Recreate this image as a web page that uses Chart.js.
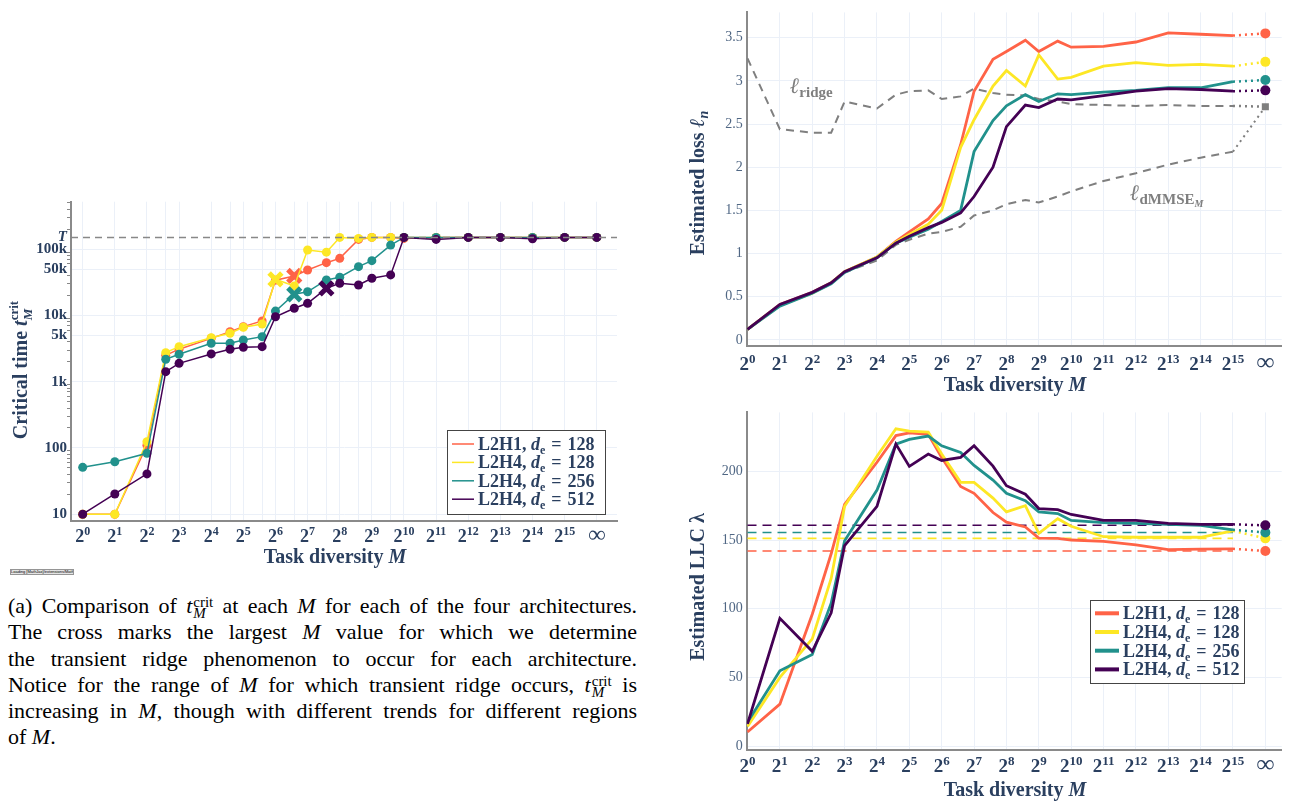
<!DOCTYPE html>
<html>
<head>
<meta charset="utf-8">
<script src="https://cdn.jsdelivr.net/npm/chart.js@4.4.1/dist/chart.umd.min.js"></script>
<style>
  body { margin: 0; background: #fff; width: 1291px; height: 805px; position: relative; overflow: hidden; }
  canvas { position: absolute; }
  #c1 { left: 0; top: 190px; }
  #c2 { left: 680px; top: 0; }
  #c3 { left: 680px; top: 400px; }
  #cap { position: absolute; left: 8px; top: 593px; width: 629px; font: 22px "Liberation Serif", serif; line-height: 26.3px; color: #000; }
  #cap .l { text-align: justify; text-align-last: justify; height: 26.3px; white-space: nowrap; }
  #cap .ss { display: inline-block; font-size: 15px; line-height: 11px; vertical-align: -5px; margin-left: 1px; }
  #cap .ss span { display: block; }
  #mj { position: absolute; left: 10px; top: 569px; width: 62px; height: 4px; font: 4px sans-serif; line-height: 4px;
        border: 1px solid #959595; background: #e4e4e4; color: #000; overflow: hidden; white-space: nowrap; }
</style>
</head>
<body>
<canvas id="c1" width="630" height="390"></canvas>
<canvas id="c2" width="611" height="400"></canvas>
<canvas id="c3" width="611" height="405"></canvas>
<div id="mj">Loading [MathJax]/extensions/MathMenu.js</div>
<div id="cap">
  <div class="l">(a) Comparison of <i>t</i><span class="ss"><span>crit</span><span><i>M</i></span></span> at each <i>M</i> for each of the four architectures.</div>
  <div class="l">The cross marks the largest <i>M</i> value for which we determine</div>
  <div class="l">the transient ridge phenomenon to occur for each architecture.</div>
  <div class="l">Notice for the range of <i>M</i> for which transient ridge occurs, <i>t</i><span class="ss"><span>crit</span><span><i>M</i></span></span> is</div>
  <div class="l">increasing in <i>M</i>, though with different trends for different regions</div>
  <div>of <i>M</i>.</div>
</div>
<script>
// task diversity values, infinity is drawn one step after 2^15
const M = [1, 2, 4, 6, 8, 16, 24, 32, 48, 64, 96, 128, 192, 256, 384, 512, 768,
           1024, 2048, 4096, 8192, 16384, 32768, Infinity];
const INF_AT = 16;

const names = ['L2H1', 'L2H4', 'L2H4', 'L2H4'];
const dims = [128, 128, 256, 512];
const colors = ['#FF6347', '#FDE725', '#21918C', '#440154'];

// (a) critical time t_M^crit
const T = 150000;
const critRed    = [10, 10, 110, 2500, 3090, 4500, 5680, 6760, 8240, 34000, 39300, 48400, 62400, 72500, 140000, T, T, 145000, T, T, T, T, T, T];
const critYellow = [10, 10, 124, 2740, 3370, 4610, 5370, 6610, 7420, 35000, 27700, 96800, 90000, T, 145000, T, T, T, T, T, T, T, T, T];
const critTeal   = [51, 62, 83, 2180, 2590, 3800, 3800, 4250, 4780, 11600, 20800, 22700, 34200, 37600, 54300, 66900, 115000, T, T, T, T, T, T, T];
const critPurple = [10, 20.2, 40.6, 1415, 1890, 2620, 3080, 3300, 3370, 9550, 12800, 15200, 25600, 30500, 28700, 36300, 40800, T, 140000, T, T, 143000, T, T];
const crossAt = [96, 64, 96, 192];
const yMajor = [10, 100, 1000, 5000, 10000, 50000, 100000, T];
const yMajorLabels = ['10', '100', '1k', '5k', '10k', '50k', '100k', 'T'];

// estimated loss
const lossRed    = [0.12, 0.41, 0.55, 0.66, 0.79, 0.96, 1.14, 1.25, 1.40, 1.58, 2.26, 2.88, 3.25, 3.34, 3.47, 3.34, 3.46, 3.39, 3.40, 3.45, 3.555, 3.54, 3.525, 3.55];
const lossYellow = [0.12, 0.40, 0.54, 0.66, 0.79, 0.96, 1.13, 1.22, 1.34, 1.50, 2.23, 2.55, 2.94, 3.12, 2.94, 3.30, 3.02, 3.04, 3.17, 3.21, 3.18, 3.19, 3.17, 3.22];
const lossTeal   = [0.12, 0.39, 0.54, 0.65, 0.78, 0.95, 1.12, 1.19, 1.28, 1.37, 1.50, 2.18, 2.54, 2.71, 2.84, 2.76, 2.85, 2.84, 2.87, 2.89, 2.92, 2.92, 2.99, 3.01];
const lossPurple = [0.12, 0.41, 0.55, 0.66, 0.79, 0.95, 1.12, 1.20, 1.30, 1.36, 1.47, 1.66, 2.00, 2.47, 2.72, 2.69, 2.79, 2.78, 2.83, 2.88, 2.91, 2.90, 2.88, 2.89];
const lossRidge  = [3.26, 2.44, 2.40, 2.40, 2.76, 2.68, 2.84, 2.88, 2.89, 2.79, 2.82, 2.91, 2.86, 2.84, 2.83, 2.79, 2.76, 2.73, 2.72, 2.71, 2.72, 2.71, 2.71, 2.70];
const lossDmmse  = [0.12, 0.40, 0.54, 0.65, 0.78, 0.92, 1.10, 1.16, 1.23, 1.25, 1.31, 1.44, 1.50, 1.57, 1.62, 1.59, 1.66, 1.72, 1.84, 1.93, 2.03, 2.11, 2.18, 2.70];

// estimated LLC
const llcRed    = [10.2, 30.5, 96, 140, 176, 206.6, 226, 228, 227, 210, 189, 184, 170, 163, 159.5, 151.4, 151.2, 150, 149, 146.4, 143, 143.3, 143.6, 142];
const llcYellow = [14.3, 50, 78, 122, 174.5, 211, 231, 229.3, 228.6, 212.6, 192, 192, 180.5, 170.5, 175, 154.8, 165.5, 160, 152.4, 152, 152, 152, 156.7, 151.2];
const llcTeal   = [17.4, 54.8, 66.7, 104, 149.5, 186.4, 219.8, 223.3, 225.7, 218.6, 213.8, 204.3, 193.6, 184, 178.6, 170.5, 169.3, 164.3, 162.6, 162.1, 161.4, 160.7, 157.4, 155.5];
const llcPurple = [16.2, 93, 69, 97, 146, 174.5, 219.8, 203.6, 212.6, 207.9, 210.2, 218.6, 203.8, 189.5, 183.3, 172.9, 172.1, 168.6, 164.3, 164.3, 162.1, 161.4, 161.4, 160.7];

const SERIF = '"Liberation Serif", "DejaVu Serif", serif';
const NAVY = '#2a3f5f';
const GRID = '#ebf0f8';
const AXIS = '#8a8a8a';
const GRAY = '#7f7f7f';

Chart.defaults.font.family = SERIF;

function fnt(size, style) { return (style || 'bold') + ' ' + size + 'px ' + SERIF; }
function xOf(m) { return m === Infinity ? INF_AT : Math.log2(m); }
function pts(vals, from, to) {
  return vals.slice(from, to).map((v, k) => ({ x: xOf(M[from + k]), y: v }));
}

// text with italic parts, sub- and superscripts
function rich(ctx, segs, x, y, opt) {
  opt = opt || {};
  ctx.save();
  ctx.translate(x, y);
  if (opt.rot) ctx.rotate(opt.rot);
  let start = 0, end = 0;
  const xs = [];
  segs.forEach(s => {
    ctx.font = s.f;
    const w = ctx.measureText(s.t).width;
    const sx = s.stack ? start : end;
    if (!s.stack) start = sx;
    xs.push(sx);
    end = Math.max(end, sx + w);
  });
  const off = opt.align === 'left' ? 0 : -end / 2;
  ctx.fillStyle = opt.color || NAVY;
  ctx.textAlign = 'left';
  ctx.textBaseline = 'alphabetic';
  segs.forEach((s, k) => { ctx.font = s.f; ctx.fillText(s.t, xs[k] + off, s.dy || 0); });
  ctx.restore();
}

// 2^k labels under the x axis, placed with the scale
function drawPowTicks(chart, below, size, supSize) {
  const sx = chart.scales.x, ctx = chart.ctx, y = chart.chartArea.bottom + below;
  for (let k = 0; k <= INF_AT; k++) {
    const px = sx.getPixelForValue(k);
    if (k === INF_AT) rich(ctx, [{ t: '∞', f: fnt(size + 6) }], px, y);
    else rich(ctx, [{ t: '2', f: fnt(size) }, { t: String(k), f: fnt(supSize), dy: -7 }], px, y);
  }
}

function drawLegend(ctx, box, rowH, lineW, lineLen, size) {
  ctx.save();
  ctx.fillStyle = '#fff';
  ctx.fillRect(box.x, box.y, box.w, box.h);
  ctx.strokeStyle = '#444';
  ctx.lineWidth = 1;
  ctx.strokeRect(box.x + 0.5, box.y + 0.5, box.w, box.h);
  names.forEach((n, i) => {
    const cy = box.y + box.first + i * rowH;
    ctx.strokeStyle = colors[i];
    ctx.lineWidth = lineW;
    ctx.beginPath();
    ctx.moveTo(box.x + 5, cy);
    ctx.lineTo(box.x + 5 + lineLen, cy);
    ctx.stroke();
    rich(ctx, [
      { t: n + ', ', f: fnt(size) },
      { t: 'd', f: fnt(size, 'italic bold') },
      { t: 'e', f: fnt(Math.round(size * 0.65)), dy: 4 },
      { t: '\u2004=\u2004' + dims[i], f: fnt(size) }
    ], box.x + lineLen + 9, cy + 6, { align: 'left' });
  });
  ctx.restore();
}

const xTitle = [{ t: 'Task diversity ', f: fnt(20) }, { t: 'M', f: fnt(20, 'italic bold') }];

// ---------- (a) critical time ----------
const c1xMin = -0.364, c1xMax = 16.63;
const critSeries = [critRed, critYellow, critTeal, critPurple];
const ds1 = critSeries.map((vals, i) => ({
  data: pts(vals, 0, M.length),
  borderColor: colors[i],
  backgroundColor: colors[i],
  borderWidth: 1.5,
  pointBackgroundColor: colors[i],
  pointBorderColor: colors[i],
  pointStyle: c => M[c.dataIndex] === crossAt[i] ? 'crossRot' : 'circle',
  pointRadius: c => M[c.dataIndex] === crossAt[i] ? 9 : 4.5,
  pointBorderWidth: c => M[c.dataIndex] === crossAt[i] ? 5 : 0,
  order: 3 - i
}));
ds1.push({
  data: [{ x: c1xMin, y: T }, { x: c1xMax, y: T }],
  borderColor: '#888', borderWidth: 1.5, borderDash: [7, 5], pointRadius: 0, order: -1
});

const yTicks1 = yMajor.slice();
for (let k = 1; k <= 5; k++) {
  for (let d = 2; d <= 9; d++) {
    const v = d * Math.pow(10, k);
    if (v < 520000 && !yTicks1.includes(v)) yTicks1.push(v);
  }
}

new Chart(document.getElementById('c1'), {
  type: 'line',
  data: { datasets: ds1 },
  options: {
    responsive: false,
    animation: false,
    layout: { padding: { top: 11.7, right: 13, left: 0, bottom: 0 } },
    plugins: { legend: { display: false }, tooltip: { enabled: false } },
    scales: {
      x: {
        type: 'linear', min: c1xMin, max: c1xMax,
        afterBuildTicks: s => { s.ticks = M.map(m => ({ value: xOf(m) })); },
        afterFit: s => { s.height = 59; },
        grid: { color: GRID, drawTicks: false },
        border: { color: AXIS, width: 2 },
        ticks: { display: false }
      },
      y: {
        type: 'logarithmic', min: 7.9, max: 519000,
        afterBuildTicks: s => { s.ticks = yTicks1.map(v => ({ value: v })); },
        afterFit: s => { s.width = 71; },
        grid: {
          color: c => (c.tick && yMajor.includes(c.tick.value) && c.tick.value !== T) ? GRID : 'rgba(0,0,0,0)',
          tickColor: c => (c.tick && yMajor.includes(c.tick.value)) ? 'rgba(0,0,0,0)' : '#888',
          tickLength: 4
        },
        border: { color: AXIS, width: 2 },
        ticks: {
          autoSkip: false, padding: 0, color: NAVY,
          font: c => ({ size: 15, weight: 'bold', style: (c.tick && c.tick.value === T) ? 'italic' : 'normal' }),
          callback: v => { const k = yMajor.indexOf(v); return k < 0 ? '' : yMajorLabels[k]; }
        }
      }
    }
  },
  plugins: [{
    id: 'deco1',
    afterDraw(chart) {
      const ctx = chart.ctx;
      drawPowTicks(chart, 21, 18, 12);
      rich(ctx, xTitle, 335, 373);
      rich(ctx, [
        { t: 'Critical time ', f: fnt(20) },
        { t: 't', f: fnt(20, 'italic bold') },
        { t: 'crit', f: fnt(13), dy: -9 },
        { t: 'M', f: fnt(13, 'italic bold'), dy: 5, stack: true }
      ], 27, 180, { rot: -Math.PI / 2 });
      drawLegend(ctx, { x: 447, y: 240, w: 158, h: 84, first: 14 }, 18.4, 1.5, 22, 18);
    }
  }]
});

// ---------- shared pieces for the two right panels ----------
const rxMin = -0.025, rxMax = 16.505;
const lastFinite = M.length - 2;

function rightX(h) {
  return {
    type: 'linear', min: rxMin, max: rxMax,
    afterBuildTicks: s => { s.ticks = Array.from({ length: INF_AT + 1 }, (_, k) => ({ value: k })); },
    afterFit: s => { s.height = h; },
    grid: { color: GRID, drawTicks: false },
    border: { color: AXIS, width: 2 },
    ticks: { display: false }
  };
}
function rightY(min, max, ticks) {
  return {
    type: 'linear', min: min, max: max,
    afterBuildTicks: s => { s.ticks = ticks.map(v => ({ value: v })); },
    afterFit: s => { s.width = 66.7; },
    grid: { color: GRID, drawTicks: false },
    border: { color: AXIS, width: 2 },
    ticks: { autoSkip: false, padding: 4, color: '#506784', font: { size: 14, weight: 'normal' },
             callback: v => String(v) }
  };
}
function solid(vals, color, order) {
  return { data: pts(vals, 0, lastFinite + 1), borderColor: color, borderWidth: 2.8,
           pointRadius: 0, order: order };
}
function tail(vals, color, order, marker) {
  return { data: pts(vals, lastFinite, M.length), borderColor: color, backgroundColor: color,
           borderWidth: 2.5, borderDash: [2, 4], pointStyle: marker || 'circle',
           pointRadius: c => (c.dataIndex === 1 && marker !== 'none') ? 5 : 0,
           pointBorderWidth: 0, order: order };
}

// ---------- estimated loss ----------
const lossSeries = [lossRed, lossYellow, lossTeal, lossPurple];
const ds2 = [];
lossSeries.forEach((vals, i) => { ds2.push(solid(vals, colors[i], 3 - i)); ds2.push(tail(vals, colors[i], 3 - i)); });
ds2.push({ data: pts(lossRidge, 0, lastFinite + 1), borderColor: GRAY, borderWidth: 2, borderDash: [8, 6], pointRadius: 0, order: 10 });
ds2.push(tail(lossRidge, GRAY, 9, 'rect'));
ds2.push({ data: pts(lossDmmse, 0, lastFinite + 1), borderColor: GRAY, borderWidth: 2, borderDash: [8, 6], pointRadius: 0, order: 10 });
ds2.push(Object.assign(tail(lossDmmse, GRAY, 10, 'none'), { borderWidth: 2 }));

new Chart(document.getElementById('c2'), {
  type: 'line',
  data: { datasets: ds2 },
  options: {
    responsive: false,
    animation: false,
    layout: { padding: { top: 3, right: 9.3, left: 0, bottom: 0 } },
    plugins: { legend: { display: false }, tooltip: { enabled: false } },
    scales: {
      x: rightX(54.3),
      y: rightY(-0.068, 3.793, [0, 0.5, 1, 1.5, 2, 2.5, 3, 3.5])
    }
  },
  plugins: [{
    id: 'deco2',
    afterDraw(chart) {
      const ctx = chart.ctx, sx = chart.scales.x, sy = chart.scales.y;
      drawPowTicks(chart, 24, 19, 13);
      rich(ctx, xTitle, 335, 391);
      rich(ctx, [
        { t: 'Estimated loss ', f: fnt(20) },
        { t: 'ℓ', f: fnt(21, 'italic bold') },
        { t: 'n', f: fnt(14, 'italic bold'), dy: 4 }
      ], 24, 183, { rot: -Math.PI / 2 });
      rich(ctx, [{ t: 'ℓ', f: fnt(22, 'italic bold') }, { t: 'ridge', f: fnt(15), dy: 4 }],
           sx.getPixelForValue(1.31), sy.getPixelForValue(2.86), { align: 'left', color: GRAY });
      rich(ctx, [{ t: 'ℓ', f: fnt(22, 'italic bold') }, { t: 'dMMSE', f: fnt(15), dy: 4 },
                 { t: 'M', f: fnt(10, 'italic bold'), dy: 7 }],
           sx.getPixelForValue(11.82), sy.getPixelForValue(1.62), { align: 'left', color: GRAY });
    }
  }]
});

// ---------- estimated LLC ----------
const llcSeries = [llcRed, llcYellow, llcTeal, llcPurple];
const ds3 = [];
llcSeries.forEach((vals, i) => {
  ds3.push(solid(vals, colors[i], 3 - i));
  ds3.push(tail(vals, colors[i], 3 - i));
  const inf = vals[M.length - 1];
  ds3.push({ data: [{ x: xOf(M[0]), y: inf }, { x: xOf(M[lastFinite]), y: inf }],
             borderColor: colors[i], borderWidth: 1.6, borderDash: [9, 6], pointRadius: 0, order: 10 });
});

new Chart(document.getElementById('c3'), {
  type: 'line',
  data: { datasets: ds3 },
  options: {
    responsive: false,
    animation: false,
    layout: { padding: { top: 6, right: 9.3, left: 0, bottom: 0 } },
    plugins: { legend: { display: false }, tooltip: { enabled: false } },
    scales: {
      x: rightX(55),
      y: rightY(-2.86, 242.9, [0, 50, 100, 150, 200])
    }
  },
  plugins: [{
    id: 'deco3',
    afterDraw(chart) {
      const ctx = chart.ctx;
      drawPowTicks(chart, 22, 19, 13);
      rich(ctx, xTitle, 335, 396);
      rich(ctx, [{ t: 'Estimated LLC ', f: fnt(20) }, { t: 'λ', f: fnt(20) }], 24, 187, { rot: -Math.PI / 2 });
      drawLegend(ctx, { x: 410, y: 200, w: 154, h: 83, first: 13.3 }, 18.7, 4, 24, 18);
    }
  }]
});
</script>
</body>
</html>
